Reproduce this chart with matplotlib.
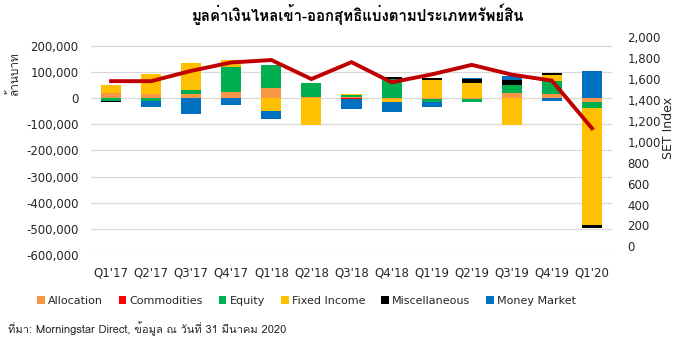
import numpy as np
import matplotlib
matplotlib.use('Agg')
import matplotlib.pyplot as plt
from matplotlib import font_manager
from matplotlib.ft2font import FT2Font
from matplotlib.ticker import FuncFormatter

# Data (million baht)
quarters = ["Q1'17", "Q2'17", "Q3'17", "Q4'17", "Q1'18", "Q2'18", "Q3'18",
            "Q4'18", "Q1'19", "Q2'19", "Q3'19", "Q4'19", "Q1'20"]
allocation = [20000, 16000, 14000, 22000, 38000, 3000, 3000, -2000, -2000, -3000, 19000, 17000, -15000]
commodities = [0, 0, 0, 0, 0, 0, -3000, 0, 0, 0, 0, 0, 0]
equity = [-12000, -11000, 15000, 97000, 87000, 55000, 7000, 74000, -12000, -12000, 29000, 49000, -22000]
fixed_income = [30000, 74000, 103000, 28000, -51000, -104000, 6000, -15000, 68000, 59000, -105000, 22000, -450000]
miscellaneous = [-3000, 0, 3000, 0, 0, 0, 0, 5000, 8000, 13000, 22000, 6000, -8000]
money_market = [0, -25000, -60000, -28000, -28000, 0, -40000, -35000, -19000, 5000, 14000, -11000, 104000]
set_index = [1575, 1575, 1673, 1753, 1776, 1595, 1756, 1564, 1639, 1730, 1637, 1580, 1126]

series_names = ['Allocation', 'Commodities', 'Equity', 'Fixed Income', 'Miscellaneous', 'Money Market']
series_colors = ['#F79646', '#FF0000', '#00B050', '#FFC000', '#000000', '#0070C0']


def find_thai_font():
    # look for any installed font that has Thai glyphs
    for f in font_manager.fontManager.ttflist:
        try:
            if ord('ม') in FT2Font(f.fname).get_charmap():
                return f.name
        except Exception:
            pass
    return None


thai = find_thai_font()
thai_family = [thai, 'DejaVu Sans'] if thai else ['DejaVu Sans']

plt.rcParams['font.family'] = ['DejaVu Sans']
plt.rcParams['font.size'] = 8.5
text_color = '#262626'

fig = plt.figure(figsize=(6.85, 3.6), dpi=100)
ax = fig.add_axes([91 / 685, 1 - 255 / 360, (612 - 91) / 685, (255 - 36) / 360])

x = np.arange(len(quarters))
pos_bottom = np.zeros(len(quarters))
neg_bottom = np.zeros(len(quarters))
all_series = [allocation, commodities, equity, fixed_income, miscellaneous, money_market]
for name, vals, col in zip(series_names, all_series, series_colors):
    vals = np.array(vals, dtype=float)
    bottom = np.where(vals >= 0, pos_bottom, neg_bottom)
    ax.bar(x, vals, width=0.5, bottom=bottom, color=col, label=name, linewidth=0)
    pos_bottom += np.where(vals > 0, vals, 0)
    neg_bottom += np.where(vals < 0, vals, 0)

ax.set_xlim(-0.5, 12.5)
ax.set_ylim(-600000, 237000)
ax.set_yticks(np.arange(-600000, 200001, 100000))
ax.yaxis.set_major_formatter(FuncFormatter(lambda v, p: f'{int(v):,}'))
ax.set_xticks(x)
ax.set_xticklabels(quarters)
ax.grid(axis='y', color='#D9D9D9', linewidth=0.9)
ax.set_axisbelow(True)
for s in ax.spines.values():
    s.set_visible(False)
ax.tick_params(axis='y', length=0, pad=9, colors=text_color, labelsize=8.5)
ax.tick_params(axis='x', length=0, pad=8, colors=text_color, labelsize=8.5)

ax2 = ax.twinx()
ax2.plot(x, set_index, color='#C00000', linewidth=2.8, solid_joinstyle='miter')
ax2.set_ylim(-81, 2005)
ax2.set_yticks(np.arange(0, 2001, 200))
ax2.yaxis.set_major_formatter(FuncFormatter(lambda v, p: f'{int(v):,}'))
for s in ax2.spines.values():
    s.set_visible(False)
ax2.tick_params(axis='y', length=0, pad=11, colors=text_color, labelsize=8.5)

fig.text(669 / 685, 1 - 128 / 360, 'SET Index', rotation=90, ha='center', va='center',
         fontsize=9, color=text_color)
fig.text(13 / 685, 1 - 74 / 360, 'ล้านบาท', rotation=90, ha='center', va='center',
         fontsize=8.5, color=text_color, family=thai_family)

fig.text(358 / 685, 1 - 14 / 360, 'มูลค่าเงินไหลเข้า-ออกสุทธิแบ่งตามประเภททรัพย์สิน',
         ha='center', va='center', fontsize=10.8, fontweight='bold', color='#000000',
         family=thai_family)

leg = ax.legend(loc='center left', bbox_to_anchor=(37 / 685, 1 - 301 / 360),
                bbox_transform=fig.transFigure, ncol=6, frameon=False,
                handlelength=0.7, handleheight=0.7, handletextpad=0.3,
                columnspacing=1.4, fontsize=8, borderaxespad=0, borderpad=0)
for t in leg.get_texts():
    t.set_color(text_color)

fig.text(8 / 685, 1 - 329 / 360, 'ที่มา: Morningstar Direct, ข้อมูล ณ วันที่ 31 มีนาคม 2020',
         ha='left', va='center', fontsize=8, color=text_color, family=thai_family)

fig.savefig('out.png', dpi=100)
